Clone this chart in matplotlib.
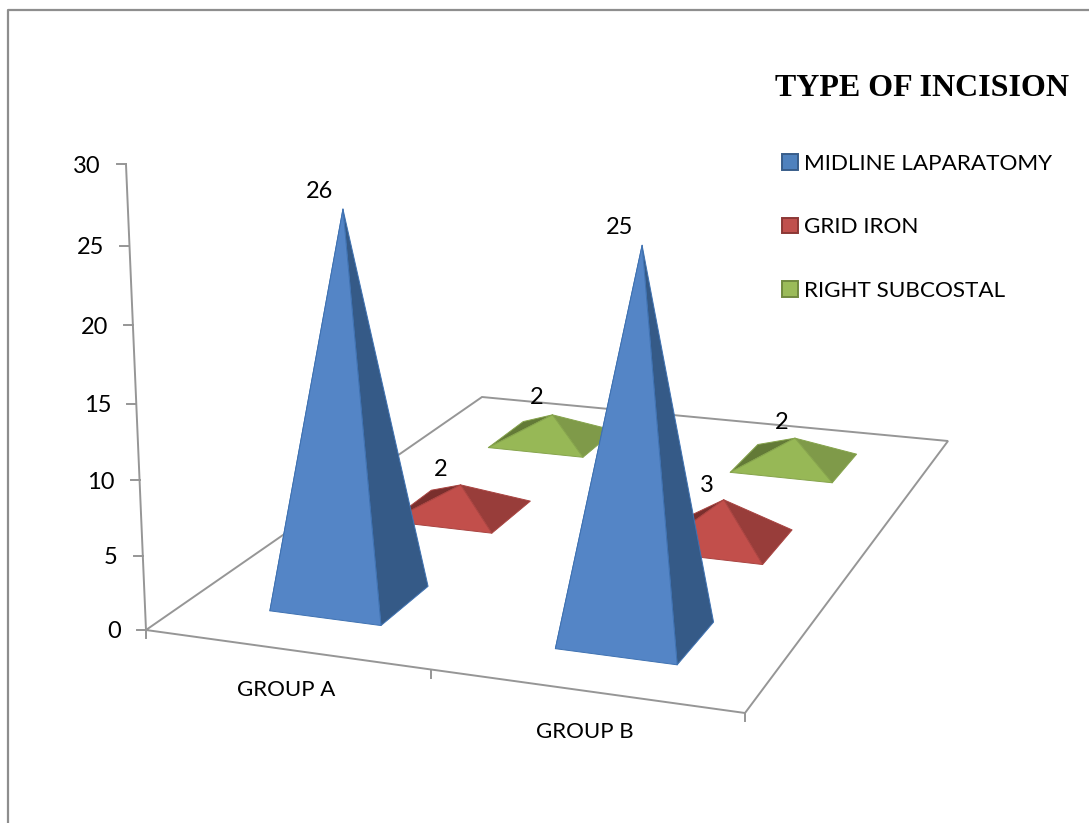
"""
Type of incision by study group, drawn as a 3D pyramid chart.

The floor is a plane with a perspective projection; every pyramid is built
from its category, series and value and then passed through project().
"""

import numpy as np
import matplotlib
matplotlib.use("Agg")
import matplotlib.pyplot as plt
from matplotlib.patches import Patch, Polygon


GROUPS          = ["GROUP A", "GROUP B"]
SERIES          = ["MIDLINE LAPARATOMY", "GRID IRON", "RIGHT SUBCOSTAL"]
MIDLINE         = [26, 25]
GRID_IRON       = [2, 3]
RIGHT_SUBCOSTAL = [2, 2]
Y_TICKS         = [0, 5, 10, 15, 20, 25, 30]
TITLE           = "TYPE OF INCISION"

# floor corners on the canvas: front-left, front-right, back-right, back-left
FLOOR = np.array([[146, 630], [745, 713], [948, 441], [482, 397]], dtype=float)
# contribution of one value unit to the homogeneous coordinates
UP = np.array([-0.894, -15.82, -0.0018])
HALF_BASE = 0.2

AXIS_GRAY = "#969696"
FACES = {   # front, right, left
    "MIDLINE LAPARATOMY": ("#5485c6", "#355a87", "#2c4b72"),
    "GRID IRON":          ("#c24f4b", "#983d3a", "#7a2f2d"),
    "RIGHT SUBCOSTAL":    ("#97b856", "#7f9a49", "#637a37"),
}
EDGES = {
    "MIDLINE LAPARATOMY": "#3f72b2",
    "GRID IRON":          "#a94441",
    "RIGHT SUBCOSTAL":    "#86a44c",
}
LEGEND_FACE = {"MIDLINE LAPARATOMY": ("#4f81bd", "#385d8a"),
               "GRID IRON":          ("#c0504d", "#8c3836"),
               "RIGHT SUBCOSTAL":    ("#9bbb59", "#71893f")}
# value label offset from the apex, in pixels
LABEL_OFFSETS = {
    "MIDLINE LAPARATOMY": [(-23, -18), (-23, -18)],
    "GRID IRON":          [(-20, -15), (-17, -14)],
    "RIGHT SUBCOSTAL":    [(-16, -17), (-13, -16)],
}


def floor_matrix(corners):
    """Homography from the unit square to the floor quad."""
    (x0, y0), (x1, y1), (x2, y2), (x3, y3) = corners
    dx1, dy1 = x1 - x2, y1 - y2
    dx2, dy2 = x3 - x2, y3 - y2
    sx, sy = x0 - x1 + x2 - x3, y0 - y1 + y2 - y3
    det = dx1 * dy2 - dx2 * dy1
    g = (sx * dy2 - dx2 * sy) / det
    h = (dx1 * sy - sx * dy1) / det
    return np.array([[x1 - x0 + g * x1, x3 - x0 + h * x3, x0],
                     [y1 - y0 + g * y1, y3 - y0 + h * y3, y0],
                     [g, h, 1.0]])


H = floor_matrix(FLOOR)


def project(cat, row, value=0.0):
    """cat in 0..n_groups, row in 0..n_series (0 is the front), value upward."""
    s, t = cat / len(GROUPS), row / len(SERIES)
    p = H @ np.array([s, t, 1.0]) + value * UP
    return p[0] / p[2], p[1] / p[2]


def draw_floor_and_axes(ax):
    n_c, n_s = len(GROUPS), len(SERIES)
    corners = [project(0, 0), project(n_c, 0), project(n_c, n_s), project(0, n_s)]
    ax.add_patch(Polygon(corners, closed=True, fill=False,
                         edgecolor=AXIS_GRAY, linewidth=1.4, zorder=1))

    # value axis with its ticks and labels
    top = project(0, 0, Y_TICKS[-1])
    base = project(0, 0, 0)
    ax.plot([base[0], top[0]], [base[1], top[1]], color=AXIS_GRAY, lw=1.4, zorder=1)
    for v in Y_TICKS:
        x, y = project(0, 0, v)
        ax.plot([x - 9, x], [y, y], color=AXIS_GRAY, lw=1.4, zorder=1)
        ax.text(x - 25, y + 2, str(v), ha="right", va="center",
                fontsize=17, color="black")

    # category ticks along the front edge
    for c in range(n_c + 1):
        x, y = project(c, 0)
        ax.plot([x, x], [y, y + 8], color=AXIS_GRAY, lw=1.4, zorder=1)
    for c, name in enumerate(GROUPS):
        x, y = project(c + 0.5, 0)
        ax.text(x + 1, y + 41, name, ha="center", va="center",
                fontsize=16, color="black")


def draw_pyramid(ax, cat, row, value, series, zorder):
    cx, cy = cat + 0.5, row + 0.5
    d = HALF_BASE
    front_l = project(cx - d, cy - d)
    front_r = project(cx + d, cy - d)
    back_r  = project(cx + d, cy + d)
    back_l  = project(cx - d, cy + d)
    apex    = project(cx, cy, value)

    front, right, left = FACES[series]
    edge = EDGES[series]
    for pts, col in [((back_l, apex, front_l), left),
                     ((front_r, back_r, apex), right),
                     ((front_l, front_r, apex), front)]:
        ax.add_patch(Polygon(pts, closed=True, facecolor=col, edgecolor=edge,
                             linewidth=0.7, joinstyle="round", zorder=zorder))
    return apex


def main():
    fig = plt.figure(figsize=(10.89, 8.23), dpi=100)
    plt.rcParams["font.family"] = ["Lato", "DejaVu Sans"]
    ax = fig.add_axes([0, 0, 1, 1])
    ax.set_xlim(0, 1089)
    ax.set_ylim(823, 0)
    ax.axis("off")

    # outer frame, only the top and left sides are on the page
    ax.plot([8, 8, 1089], [823, 10, 10], color="#8e8e8e", lw=1.6, zorder=1)

    draw_floor_and_axes(ax)

    # back row first so the nearer pyramids cover it
    values = dict(zip(SERIES, [MIDLINE, GRID_IRON, RIGHT_SUBCOSTAL]))
    z = 2
    for row in reversed(range(len(SERIES))):
        name = SERIES[row]
        for cat, val in enumerate(values[name]):
            apex = draw_pyramid(ax, cat, row, val, name, z)
            dx, dy = LABEL_OFFSETS[name][cat]
            ax.text(apex[0] + dx, apex[1] + dy, str(val), ha="center", va="center",
                    fontsize=17, color="black", zorder=20)
            z += 1

    ax.text(922, 88, TITLE, ha="center", va="center", fontsize=23, fontweight="bold",
            family="Liberation Serif", color="black")

    handles = [Patch(facecolor=LEGEND_FACE[s][0], edgecolor=LEGEND_FACE[s][1],
                     linewidth=1.4, label=s) for s in SERIES]
    ax.legend(handles=handles, loc="upper left", bbox_to_anchor=(782, 154),
              bbox_transform=ax.transData, frameon=False, fontsize=16.2,
              handlelength=0.7, handleheight=0.7, handletextpad=0.3,
              labelspacing=1.93, borderpad=0, borderaxespad=0)

    fig.savefig("out.png", dpi=100)
    plt.close(fig)


if __name__ == "__main__":
    main()
